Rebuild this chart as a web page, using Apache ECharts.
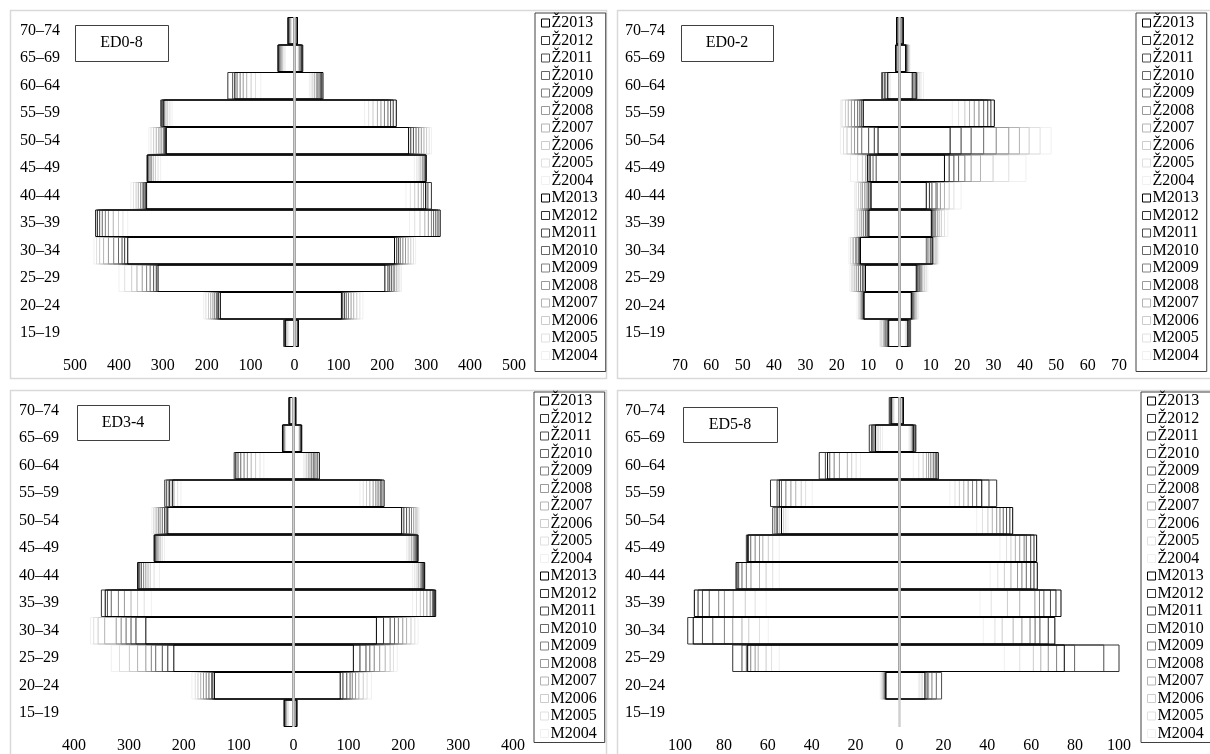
<!DOCTYPE html>
<html>
<head>
<meta charset="utf-8">
<script src="https://cdn.jsdelivr.net/npm/echarts@6/dist/echarts.min.js"></script>
<style>
  html, body { margin: 0; padding: 0; background: #fff; }
  #chart { width: 1210px; height: 754px; }
</style>
</head>
<body>
<div id="chart"></div>
<script>
// Age groups, bottom to top of each pyramid
const ageGroups = ['15–19', '20–24', '25–29', '30–34', '35–39', '40–44', '45–49', '50–54', '55–59', '60–64', '65–69', '70–74'];
// Survey years; each row below lists values for 2004 … 2013
const years = [2004, 2005, 2006, 2007, 2008, 2009, 2010, 2011, 2012, 2013];

// ED0-8 (all education levels)
const ed08Men = [
  [14, 16, 18, 20, 22, 24, 26, 25, 23, 22],
  [208, 203, 197, 192, 187, 183, 179, 176, 174, 170],
  [401, 388, 372, 360, 348, 338, 330, 322, 316, 312],
  [458, 452, 445, 436, 425, 413, 402, 394, 388, 381],
  [381, 392, 402, 414, 425, 432, 439, 445, 450, 454],
  [374, 368, 362, 357, 352, 348, 345, 342, 340, 338],
  [306, 312, 318, 323, 327, 330, 333, 335, 336, 337],
  [333, 328, 322, 316, 310, 305, 300, 297, 295, 293],
  [280, 285, 290, 294, 298, 302, 304, 306, 303, 299],
  [78, 90, 100, 110, 118, 125, 132, 142, 153, 137],
  [22, 25, 28, 30, 32, 34, 36, 37, 38, 39],
  [8, 9, 10, 11, 12, 13, 14, 15, 16, 16]
];
const ed08Women = [
  [6, 6, 7, 7, 8, 8, 9, 9, 10, 10],
  [157, 150, 143, 136, 130, 124, 119, 115, 111, 108],
  [245, 241, 237, 233, 229, 226, 222, 218, 214, 207],
  [277, 272, 266, 260, 254, 248, 242, 238, 234, 229],
  [263, 275, 287, 298, 306, 313, 318, 323, 328, 333],
  [255, 265, 275, 283, 290, 295, 300, 305, 313, 300],
  [274, 280, 285, 289, 293, 296, 298, 300, 301, 301],
  [313, 308, 302, 296, 290, 284, 278, 272, 266, 261],
  [161, 170, 180, 190, 198, 206, 214, 220, 226, 233],
  [35, 39, 43, 47, 51, 54, 57, 60, 63, 66],
  [9, 10, 11, 12, 13, 14, 16, 17, 18, 20],
  [4, 4, 5, 5, 6, 6, 7, 7, 8, 8]
];

// ED0-2
const ed02Men = [
  [6.5, 6.2, 5.8, 5.3, 4.9, 4.6, 4.2, 3.9, 3.8, 3.6],
  [13.7, 13.2, 12.8, 12.5, 12.3, 12.0, 11.8, 11.6, 11.5, 11.5],
  [16.0, 15.5, 15.0, 14.4, 13.8, 13.2, 12.6, 12.0, 11.5, 11.0],
  [16.3, 15.8, 15.2, 14.8, 14.2, 13.8, 13.3, 13.0, 12.8, 12.6],
  [14.5, 14.0, 13.5, 12.8, 12.2, 11.6, 11.0, 10.5, 10.2, 9.9],
  [14.5, 14.0, 13.2, 12.5, 12.0, 11.2, 10.5, 10.0, 9.5, 9.2],
  [15.8, 13.5, 12.0, 11.0, 10.0, 9.4, 8.6, 7.6, 9.6, 10.4],
  [19.0, 18.0, 16.9, 15.5, 14.5, 13.5, 12.2, 10.0, 8.2, 7.0],
  [19.0, 18.5, 17.4, 16.5, 15.5, 14.5, 13.5, 12.8, 12.2, 11.7],
  [3.0, 3.5, 4.0, 4.5, 5.0, 5.5, 5.9, 5.6, 4.8, 3.9],
  [0.6, 0.7, 0.8, 0.9, 1.0, 1.1, 1.2, 1.3, 1.4, 1.4],
  [0.4, 0.5, 0.5, 0.6, 0.7, 0.8, 0.9, 1.0, 1.1, 1.1]
];
const ed02Women = [
  [2.0, 2.2, 2.5, 2.8, 3.0, 3.3, 3.5, 3.7, 3.2, 2.8],
  [6.3, 6.0, 5.6, 5.2, 4.9, 4.6, 4.4, 4.2, 4.0, 3.9],
  [9.2, 8.7, 8.2, 7.6, 7.2, 6.8, 6.5, 6.1, 5.8, 5.5],
  [12.7, 12.3, 11.9, 11.5, 9.5, 9.0, 8.7, 10.0, 10.5, 10.8],
  [15.6, 14.5, 13.5, 12.8, 12.2, 11.6, 11.2, 10.8, 10.5, 10.3],
  [19.8, 17.5, 16.0, 14.5, 13.2, 12.2, 11.8, 10.5, 9.7, 8.7],
  [40.5, 35.0, 30.0, 26.0, 23.0, 21.0, 19.0, 17.5, 16.0, 14.5],
  [48.5, 45.0, 41.5, 38.4, 35.0, 31.0, 27.0, 23.0, 19.8, 16.3],
  [17.0, 19.0, 21.0, 22.5, 24.0, 25.5, 27.0, 28.3, 29.3, 30.4],
  [7.8, 7.0, 6.4, 5.9, 5.7, 5.2, 4.8, 4.4, 4.2, 5.5],
  [3.5, 3.3, 3.1, 2.9, 2.7, 2.5, 2.4, 2.3, 2.2, 2.1],
  [0.5, 0.6, 0.7, 0.8, 0.9, 1.0, 1.1, 1.2, 1.3, 1.4]
];

// ED3-4
const ed34Men = [
  [10, 11, 13, 14, 15, 16, 17, 18, 17, 18],
  [186, 180, 175, 170, 165, 160, 155, 150, 148, 145],
  [333, 318, 300, 285, 270, 260, 252, 240, 230, 219],
  [371, 365, 357, 345, 324, 315, 306, 297, 288, 270],
  [260, 273, 285, 297, 309, 320, 333, 340, 351, 344],
  [245, 255, 262, 266, 270, 274, 278, 281, 283, 285],
  [236, 240, 243, 246, 248, 250, 252, 253, 254, 255],
  [259, 256, 253, 250, 247, 244, 240, 236, 233, 230],
  [206, 212, 218, 224, 229, 232, 236, 233, 227, 221],
  [55, 62, 70, 78, 85, 91, 97, 102, 109, 106],
  [15, 16, 17, 17, 18, 19, 19, 20, 21, 21],
  [6, 6, 7, 7, 8, 8, 8, 9, 9, 9]
];
const ed34Women = [
  [4, 4, 5, 5, 6, 6, 6, 7, 7, 7],
  [143, 135, 128, 120, 114, 108, 104, 98, 91, 86],
  [190, 183, 177, 168, 158, 148, 140, 133, 122, 110],
  [228, 222, 215, 207, 200, 192, 185, 177, 165, 152],
  [218, 225, 232, 238, 244, 250, 254, 256, 258, 260],
  [218, 222, 226, 229, 232, 234, 236, 238, 239, 240],
  [207, 210, 213, 216, 219, 221, 223, 225, 227, 228],
  [230, 228, 226, 224, 220, 216, 212, 207, 202, 198],
  [122, 128, 134, 140, 146, 151, 155, 159, 162, 166],
  [19, 22, 25, 28, 31, 34, 37, 40, 44, 48],
  [10, 11, 12, 12, 13, 14, 14, 15, 15, 16],
  [3, 3, 3, 4, 4, 4, 5, 5, 5, 5]
];

// ED5-8
const ed58Men = [
  [0, 0, 0, 0, 0, 0, 0, 0, 0, 0],
  [9.0, 8.5, 8.0, 7.5, 7.2, 7.0, 6.8, 6.6, 6.5, 6.4],
  [55, 58.5, 61, 64.6, 66, 68, 70, 72, 76.2, 69.4],
  [60, 64, 68.9, 72, 76.2, 80, 85.3, 90, 96.7, 94.2],
  [61, 66, 70.5, 76, 80, 82.6, 86.9, 90, 92, 93.7],
  [55, 58, 61, 64, 67.9, 70, 72, 73.5, 74.2, 74.7],
  [55, 58, 60, 62.5, 64, 66, 68, 69, 70, 69.4],
  [51, 52, 53, 54, 55, 56, 57, 58, 56, 54],
  [40, 43, 45, 47.5, 49.7, 52, 54, 56, 59, 55],
  [18, 20, 22, 24, 27.6, 30, 32, 34, 36.8, 33],
  [8, 9, 10, 11, 11.5, 12, 12.5, 13, 14, 11.2],
  [2.5, 3, 3.2, 3.5, 3.8, 4, 4.2, 4.5, 4.9, 4.0]
];
const ed58Women = [
  [0, 0, 0, 0, 0, 0, 0, 0, 0, 0],
  [8.8, 9.5, 10.5, 12.0, 13.5, 15.0, 17.0, 19.4, 12.8, 11.8],
  [48, 55, 61.2, 64.6, 68, 71.8, 80, 93.3, 100.4, 75.3],
  [38.4, 43.7, 47, 52, 56, 59.7, 62, 64.2, 68, 71],
  [36.9, 42, 49.4, 55, 61.9, 64, 66, 69, 71.5, 73.8],
  [41.5, 45, 48, 51, 54, 56, 58, 60, 61.5, 63],
  [46, 49, 51, 53, 55, 57, 58, 60, 61.5, 62.7],
  [35.4, 38, 40.5, 42.5, 44.5, 46, 47.5, 49, 50.5, 51.8],
  [23.2, 25.5, 27.5, 29.5, 31.5, 33.5, 35.4, 41.0, 44.5, 37.7],
  [6.5, 9, 11, 12.5, 13.5, 14.5, 15.6, 16.5, 17.2, 17.9],
  [4.5, 5, 5.5, 5.8, 6.2, 6.5, 7, 7.5, 7.7, 6.5],
  [1.2, 1.3, 1.4, 1.5, 1.6, 1.7, 1.8, 1.9, 2.0, 2.0]
];

// Outline shade for each year, 2004 (faintest) … 2013 (darkest)
const yearColors = ['#f0f0f0', '#e0e0e0', '#cccccc', '#b3b3b3', '#999999', '#808080', '#666666', '#4d4d4d', '#333333', '#000000'];

const serif = "'Liberation Serif', 'Times New Roman', serif";

const panels = [
  { title: 'ED0-8', men: ed08Men, women: ed08Women, max: 500, step: 100,
    grid: { left: 75, top: 17, width: 439, height: 330 },
    frame: [10, 10, 596, 368], box: [75, 25, 93, 36],
    legend: { left: 535, top: 13, padding: [2, 8, 8, 6] } },
  { title: 'ED0-2', men: ed02Men, women: ed02Women, max: 70, step: 10,
    grid: { left: 680, top: 17, width: 439, height: 330 },
    frame: [617, 10, 600, 368], box: [681, 25, 92, 36],
    legend: { left: 1136, top: 13, padding: [2, 8, 8, 6] } },
  { title: 'ED3-4', men: ed34Men, women: ed34Women, max: 400, step: 100,
    grid: { left: 74, top: 397, width: 439, height: 330 },
    frame: [10, 390, 596, 370], box: [77, 405, 92, 35],
    legend: { left: 534, top: 392, padding: [1, 8, 1, 6] } },
  { title: 'ED5-8', men: ed58Men, women: ed58Women, max: 100, step: 20,
    grid: { left: 680, top: 397, width: 439, height: 330 },
    frame: [617, 390, 600, 370], box: [683, 407, 94, 35],
    legend: { left: 1141, top: 392, padding: [1, 8, 1, 6] } }
];

const legendOrder = [];
for (let i = years.length - 1; i >= 0; i--) legendOrder.push({ name: 'Ž' + years[i], color: yearColors[i] });
for (let i = years.length - 1; i >= 0; i--) legendOrder.push({ name: 'M' + years[i], color: yearColors[i] });

const option = {
  animation: false,
  backgroundColor: '#ffffff',
  grid: [], xAxis: [], yAxis: [], series: [], legend: [], graphic: []
};

panels.forEach((p, pi) => {
  option.grid.push(Object.assign({ containLabel: false }, p.grid));
  option.xAxis.push({
    type: 'value', gridIndex: pi, min: -p.max, max: p.max, interval: p.step,
    axisLine: { show: false }, axisTick: { show: false }, splitLine: { show: false },
    axisLabel: { formatter: v => Math.abs(v), fontFamily: serif, fontSize: 16, color: '#000', margin: 11,
                 showMinLabel: true, showMaxLabel: true }
  });
  option.yAxis.push({
    type: 'category', gridIndex: pi, data: ageGroups,
    axisLine: { show: false, onZero: false }, axisTick: { show: false }, splitLine: { show: false },
    axisLabel: { fontFamily: serif, fontSize: 16, color: '#000', margin: 15 }
  });

  years.forEach((yr, yi) => {
    const common = {
      type: 'bar', xAxisIndex: pi, yAxisIndex: pi,
      barGap: '-100%', barCategoryGap: '0%',
      itemStyle: { color: 'rgba(255,255,255,0)', borderColor: yearColors[yi], borderWidth: 1 },
      emphasis: { disabled: true }, silent: true
    };
    option.series.push(Object.assign({}, common, {
      name: 'M' + yr,
      data: p.men.map(row => row[yi] === 0 ? '-' : -row[yi])
    }));
    option.series.push(Object.assign({}, common, {
      name: 'Ž' + yr,
      data: p.women.map(row => row[yi] === 0 ? '-' : row[yi])
    }));
  });

  // zero line through the middle of the pyramid, above the bar outlines
  option.series.push({
    type: 'line', name: 'zero' + pi, xAxisIndex: pi, yAxisIndex: pi, data: [], z: 10, silent: true,
    markLine: {
      silent: true, symbol: 'none', label: { show: false }, animation: false,
      lineStyle: { color: '#d0d0d0', width: 2.5, type: 'solid' },
      data: [{ xAxis: 0 }]
    }
  });

  option.legend.push({
    orient: 'vertical', left: p.legend.left, top: p.legend.top,
    padding: p.legend.padding, itemGap: 1.5, itemWidth: 8, itemHeight: 8,
    borderColor: '#404040', borderWidth: 1, backgroundColor: '#fff',
    icon: 'rect', selectedMode: false,
    textStyle: { fontFamily: serif, fontSize: 16, color: '#000', lineHeight: 16, padding: [0, 0, 0, -3] },
    data: legendOrder.map(d => ({
      name: d.name, icon: 'rect',
      itemStyle: { color: '#ffffff', borderColor: d.color, borderWidth: 1 }
    }))
  });

  const f = p.frame;
  option.graphic.push({
    type: 'rect', silent: true, z: -10,
    shape: { x: f[0] + 0.5, y: f[1] + 0.5, width: f[2], height: f[3] },
    style: { fill: 'none', stroke: '#d9d9d9', lineWidth: 1.5 }
  });
  const b = p.box;
  option.graphic.push({
    type: 'rect', silent: true, z: 100,
    shape: { x: b[0] + 0.5, y: b[1] + 0.5, width: b[2], height: b[3] },
    style: { fill: '#fff', stroke: '#404040', lineWidth: 1 }
  });
  option.graphic.push({
    type: 'text', silent: true, z: 101,
    x: b[0] + b[2] / 2, y: b[1] + b[3] / 2,
    style: { text: p.title, font: '16px ' + serif, fill: '#000', textAlign: 'center', textVerticalAlign: 'middle' }
  });
});

const chart = echarts.init(document.getElementById('chart'), null, { renderer: 'canvas' });
chart.setOption(option);
</script>
</body>
</html>
